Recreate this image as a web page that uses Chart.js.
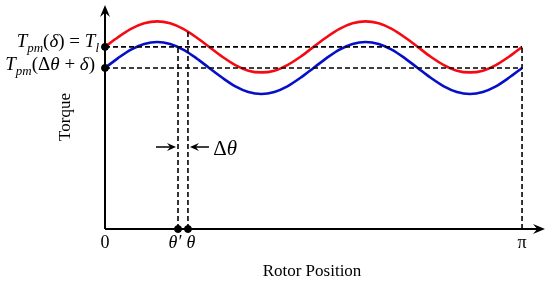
<!DOCTYPE html>
<html>
<head>
<meta charset="utf-8">
<title>Torque vs Rotor Position</title>
<script src="https://cdn.jsdelivr.net/npm/chart.js@4.4.1/dist/chart.umd.min.js"></script>
<style>
  html, body { margin: 0; padding: 0; background: #fff; }
  #wrap { width: 550px; height: 284px; position: relative; }
</style>
</head>
<body>
<div id="wrap"><canvas id="myChart" width="550" height="284"></canvas></div>
<script>
'use strict';
// data (rotor position in rad, torque in arbitrary units)//

let rotorPos = [0.000, 0.098, 0.196, 0.295, 0.393, 0.491, 0.589, 0.687, 0.785, 0.884, 0.982,
  1.080, 1.178, 1.276, 1.374, 1.473, 1.571, 1.669, 1.767, 1.865, 1.963, 2.062, 2.160, 2.258,
  2.356, 2.454, 2.553, 2.651, 2.749, 2.847, 2.945, 3.043, 3.142];
let torqueRed = [8.13, 8.56, 8.93, 9.18, 9.27, 9.18, 8.93, 8.56, 8.13, 7.69, 7.32, 7.07, 6.99,
  7.07, 7.32, 7.69, 8.13, 8.56, 8.93, 9.18, 9.27, 9.18, 8.93, 8.56, 8.13, 7.69, 7.32, 7.07,
  6.99, 7.07, 7.32, 7.69, 8.13];
let torqueBlue = [7.19, 7.63, 8.01, 8.26, 8.35, 8.26, 8.01, 7.63, 7.19, 6.75, 6.37, 6.12, 6.03,
  6.12, 6.37, 6.75, 7.19, 7.63, 8.01, 8.26, 8.35, 8.26, 8.01, 7.63, 7.19, 6.75, 6.37, 6.12,
  6.03, 6.12, 6.37, 6.75, 7.19];

let torqueLoad = 8.13;     // T_pm(delta) = T_l
let torqueShift = 7.19;    // T_pm(dTheta + delta)
let thetaPrime = 0.55;
let theta = 0.625;
let thetaTop = 8.81;       // red curve at theta
let posEnd = 3.142;
let xMax = 3.315;
let yMax = 10;

let tickLabels = ['0', 'θ′', 'θ', 'π'];
let tickPos = [0, thetaPrime, theta, posEnd];

function pairs(xs, ys) {
  let out = [];
  for (let i = 0; i < xs.length; i++) {
    out.push({x: xs[i], y: ys[i]});
  }
  return out;
}

function dashed(points) {
  return {
    data: points,
    borderColor: '#000',
    borderWidth: 1.6,
    borderDash: [5, 3],
    pointRadius: 0,
    showLine: true,
    order: 1,
    clip: false
  };
}

const serif = '"Liberation Serif", "DejaVu Serif", serif';

// draw a run of text pieces, right aligned at xRight
function drawPieces(ctx, pieces, xRight, base) {
  let total = 0;
  for (let p of pieces) {
    ctx.font = (p.it ? 'italic ' : '') + p.size + 'px ' + serif;
    total += ctx.measureText(p.t).width;
  }
  let x = xRight - total;
  ctx.textAlign = 'left';
  ctx.textBaseline = 'alphabetic';
  for (let p of pieces) {
    ctx.font = (p.it ? 'italic ' : '') + p.size + 'px ' + serif;
    ctx.fillText(p.t, x, base + (p.dy || 0));
    x += ctx.measureText(p.t).width;
  }
}

function arrowHead(ctx, x, y, dir, len, half) {
  // dir: angle the arrow points to
  ctx.save();
  ctx.translate(x, y);
  ctx.rotate(dir);
  ctx.beginPath();
  ctx.moveTo(0, 0);
  ctx.lineTo(-len, -half);
  ctx.lineTo(-len * 0.65, 0);
  ctx.lineTo(-len, half);
  ctx.closePath();
  ctx.fill();
  ctx.restore();
}

const axesPlugin = {
  id: 'axesPlugin',
  beforeDatasetsDraw(chart) {
    const ctx = chart.ctx;
    const xs = chart.scales.x;
    const ys = chart.scales.y;
    let x0 = xs.getPixelForValue(0);
    let y0 = ys.getPixelForValue(0);
    let top = chart.chartArea.top;
    let right = chart.chartArea.right;
    ctx.save();
    ctx.strokeStyle = '#000';
    ctx.fillStyle = '#000';
    ctx.lineWidth = 2;
    ctx.beginPath();
    ctx.moveTo(x0, y0);
    ctx.lineTo(x0, top + 4);
    ctx.moveTo(x0, y0);
    ctx.lineTo(right - 4, y0);
    ctx.stroke();
    arrowHead(ctx, x0, top, -Math.PI / 2, 12, 5);
    arrowHead(ctx, right, y0, 0, 12, 5);
    ctx.restore();
  },
  afterDraw(chart) {
    const ctx = chart.ctx;
    const xs = chart.scales.x;
    const ys = chart.scales.y;
    let x0 = xs.getPixelForValue(0);
    let y0 = ys.getPixelForValue(0);
    ctx.save();
    ctx.fillStyle = '#000';
    ctx.strokeStyle = '#000';

    // left labels
    let yl = ys.getPixelForValue(torqueLoad);
    drawPieces(ctx, [
      {t: 'T', it: true, size: 19},
      {t: 'pm', it: true, size: 13, dy: 5},
      {t: '(', size: 19},
      {t: 'δ', it: true, size: 19},
      {t: ') = ', size: 19},
      {t: 'T', it: true, size: 19},
      {t: 'l', it: true, size: 13, dy: 5}
    ], x0 - 6, yl);
    let ys2 = ys.getPixelForValue(torqueShift);
    drawPieces(ctx, [
      {t: 'T', it: true, size: 19},
      {t: 'pm', it: true, size: 13, dy: 5},
      {t: '(Δ', size: 19},
      {t: 'θ', it: true, size: 19},
      {t: ' + ', size: 19},
      {t: 'δ', it: true, size: 19},
      {t: ')', size: 19}
    ], x0 - 10, ys2 + 2);

    // axis titles
    ctx.font = '17px ' + serif;
    ctx.textAlign = 'center';
    ctx.textBaseline = 'middle';
    ctx.save();
    ctx.translate(66, 117);
    ctx.rotate(-Math.PI / 2);
    ctx.fillText('Torque', 0, 0);
    ctx.restore();
    ctx.textBaseline = 'alphabetic';
    ctx.fillText('Rotor Position', 312, 276);

    // tick labels
    for (let i = 0; i < tickLabels.length; i++) {
      let px = xs.getPixelForValue(tickPos[i]);
      let it = tickLabels[i] !== '0' && tickLabels[i] !== 'π';
      ctx.font = (it ? 'italic ' : '') + '18px ' + serif;
      let dx = 0;
      if (i === 1) dx = -3;
      if (i === 2) dx = 3;
      ctx.fillText(tickLabels[i], px + dx, y0 + 19);
    }

    // delta theta marker
    let xa = xs.getPixelForValue(thetaPrime);
    let xb = xs.getPixelForValue(theta);
    let ya = 147;
    ctx.lineWidth = 1.3;
    ctx.beginPath();
    ctx.moveTo(xa - 22, ya);
    ctx.lineTo(xa - 4, ya);
    ctx.moveTo(xb + 4, ya);
    ctx.lineTo(xb + 21, ya);
    ctx.stroke();
    arrowHead(ctx, xa - 2, ya, 0, 9, 4);
    arrowHead(ctx, xb + 2, ya, Math.PI, 9, 4);
    drawPieces(ctx, [
      {t: 'Δ', size: 21},
      {t: 'θ', it: true, size: 21}
    ], xb + 49, ya + 8);
    ctx.restore();
  }
};

const data = {
  datasets: [
    {
      data: [{x: 0, y: torqueLoad}, {x: 0, y: torqueShift},
        {x: thetaPrime, y: 0}, {x: theta, y: 0}],
      backgroundColor: '#000',
      borderColor: '#000',
      pointRadius: 3.5,
      showLine: false,
      order: 0,
      clip: false
    },
    dashed([{x: 0, y: torqueLoad}, {x: posEnd, y: torqueLoad}]),
    dashed([{x: 0, y: torqueShift}, {x: posEnd, y: torqueShift}]),
    dashed([{x: thetaPrime, y: 0}, {x: thetaPrime, y: torqueLoad}]),
    dashed([{x: theta, y: 0}, {x: theta, y: thetaTop}]),
    dashed([{x: posEnd, y: 0}, {x: posEnd, y: torqueLoad}]),
    {
      data: pairs(rotorPos, torqueRed),
      borderColor: 'rgb(245, 10, 20)',
      borderWidth: 2.6,
      pointRadius: 0,
      showLine: true,
      cubicInterpolationMode: 'monotone',
      order: 2
    },
    {
      data: pairs(rotorPos, torqueBlue),
      borderColor: 'rgb(5, 15, 200)',
      borderWidth: 2.6,
      pointRadius: 0,
      showLine: true,
      cubicInterpolationMode: 'monotone',
      order: 2
    }
  ]
};

const config = {
  type: 'scatter',
  data: data,
  options: {
    responsive: false,
    animation: false,
    layout: {padding: {left: 105, right: 3, top: 5, bottom: 55}},
    plugins: {legend: {display: false}, tooltip: {enabled: false}},
    scales: {
      x: {type: 'linear', min: 0, max: xMax, display: false},
      y: {type: 'linear', min: 0, max: yMax, display: false}
    }
  },
  plugins: [axesPlugin]
};

const chart = document.getElementById('myChart');
const myChart = new Chart(chart, config);
</script>
</body>
</html>
